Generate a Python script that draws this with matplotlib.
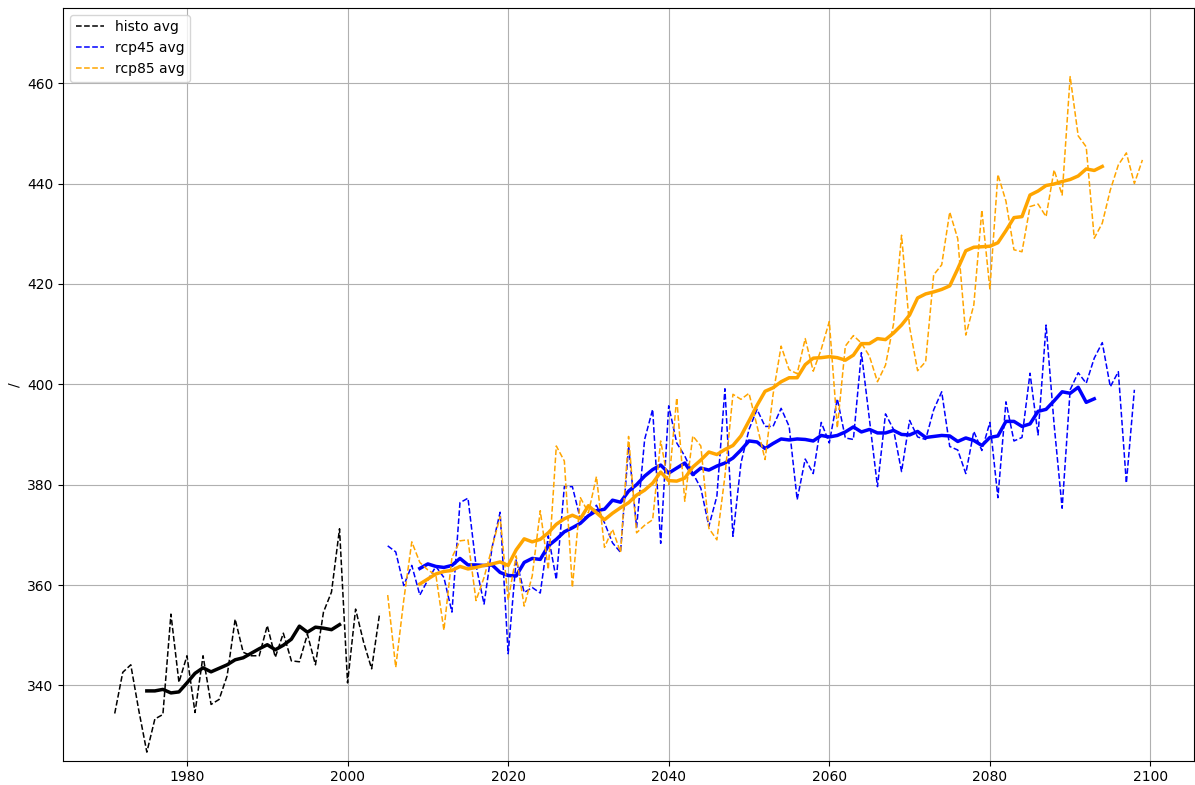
import numpy as np
import matplotlib
matplotlib.use('Agg')
import matplotlib.pyplot as plt

# yearly values
histo_start = 1971
histo = [334.4, 342.6, 344.1, 335.0, 326.7, 333.3, 334.2, 354.2, 340.6, 345.9,
         334.6, 345.9, 336.2, 337.2, 341.9, 353.2, 346.6, 345.9, 345.9, 351.9,
         345.6, 350.4, 344.9, 344.7, 350.2, 344.1, 354.6, 358.6, 371.2, 340.5,
         355.2, 348.6, 343.3, 354.4]

histo_avg_start = 1975
histo_avg = [338.9, 338.9, 339.2, 338.5, 338.7, 340.5, 342.4, 343.5, 342.7, 343.4,
             344.1, 345.1, 345.5, 346.4, 347.3, 348.1, 347.1, 348.0, 349.2, 351.8,
             350.6, 351.6, 351.4, 351.1, 352.1]

rcp45_start = 2005
rcp45 = [367.8, 366.6, 359.9, 363.9, 358.0, 361.0, 363.7, 361.5, 354.6, 376.4,
         377.3, 363.9, 356.2, 367.5, 374.5, 346.3, 365.0, 358.5, 359.5, 358.4,
         369.8, 361.1, 379.6, 379.6, 373.1, 373.8, 375.9, 372.4, 368.4, 366.5,
         387.7, 371.5, 389.0, 395.0, 368.3, 395.7, 388.3, 385.7, 382.3, 379.3,
         371.7, 377.7, 399.1, 369.7, 384.3, 391.0, 395.0, 391.6, 391.6, 395.2,
         391.6, 377.0, 385.1, 382.2, 392.4, 388.3, 397.1, 389.3, 389.0, 406.3,
         393.0, 379.6, 394.1, 391.0, 382.6, 392.8, 389.5, 389.0, 394.9, 398.5,
         387.6, 386.9, 382.2, 390.6, 386.8, 392.4, 377.4, 396.5, 388.7, 389.4,
         402.2, 389.9, 411.8, 392.0, 375.3, 398.9, 402.3, 400.2, 405.2, 408.3,
         399.5, 402.5, 380.3, 398.9]

rcp45_avg_start = 2009
rcp45_avg = [363.3, 364.2, 363.7, 363.5, 363.9, 365.3, 364.0, 364.0, 363.9, 364.0,
             362.5, 361.9, 361.8, 364.5, 365.3, 365.1, 367.8, 369.1, 370.6, 371.4,
             372.3, 373.8, 374.8, 375.1, 376.9, 376.5, 378.7, 380.0, 381.7, 383.0,
             383.9, 382.3, 383.3, 384.3, 382.0, 383.3, 382.9, 383.7, 384.3, 385.3,
             386.9, 388.7, 388.5, 387.2, 388.2, 389.1, 388.9, 389.1, 389.0, 388.7,
             389.8, 389.5, 389.8, 390.5, 391.5, 390.5, 391.0, 390.3, 390.3, 390.8,
             390.0, 389.9, 390.6, 389.4, 389.6, 389.8, 389.7, 388.6, 389.3, 388.8,
             387.8, 389.4, 389.7, 392.6, 392.6, 391.6, 392.1, 394.6, 395.0, 396.7,
             398.5, 398.2, 399.4, 396.4, 397.1]

rcp85_start = 2005
rcp85 = [358.0, 343.6, 357.0, 368.6, 364.5, 363.0, 362.0, 351.0, 365.5, 368.8,
         369.0, 356.9, 361.5, 367.5, 373.6, 357.0, 365.8, 355.8, 361.8, 374.8,
         363.1, 387.7, 384.7, 359.5, 377.4, 374.4, 381.6, 367.5, 371.1, 366.5,
         389.6, 370.4, 371.9, 373.0, 388.7, 380.0, 397.3, 376.7, 389.7, 387.7,
         371.3, 369.0, 381.7, 398.0, 397.0, 398.2, 391.7, 385.0, 398.0, 407.6,
         402.9, 402.1, 409.1, 402.6, 407.0, 412.5, 391.3, 407.6, 409.7, 408.2,
         405.6, 400.5, 403.8, 412.0, 429.7, 411.4, 402.7, 404.5, 421.8, 423.8,
         434.3, 429.0, 409.8, 415.8, 434.7, 419.0, 441.8, 436.5, 426.8, 426.4,
         435.4, 435.9, 433.4, 442.7, 437.7, 461.3, 449.5, 447.3, 429.1, 432.1,
         438.7, 443.7, 446.1, 440.0, 444.7]

rcp85_avg_start = 2009
rcp85_avg = [360.2, 361.2, 362.2, 362.7, 362.9, 363.7, 363.2, 363.5, 363.9, 364.2,
             364.6, 363.9, 367.0, 369.2, 368.6, 369.1, 370.4, 372.1, 373.2, 373.9,
             373.2, 375.8, 374.4, 373.0, 374.3, 375.4, 376.4, 377.9, 378.9, 380.3,
             382.5, 380.8, 380.7, 381.3, 383.5, 384.9, 386.5, 386.0, 387.0, 387.8,
             389.7, 392.7, 395.8, 398.6, 399.3, 400.5, 401.3, 401.3, 403.9, 405.2,
             405.3, 405.5, 405.3, 404.8, 405.8, 408.1, 408.1, 409.1, 408.9, 410.2,
             411.8, 413.8, 417.2, 418.0, 418.4, 418.9, 419.6, 423.0, 426.6, 427.3,
             427.4, 427.5, 428.2, 430.6, 433.2, 433.4, 437.7, 438.5, 439.6, 439.9,
             440.4, 440.8, 441.5, 442.9, 442.6, 443.4]


def years(start, values):
    return np.arange(start, start + len(values))


def main():
    fig = plt.figure(figsize=(11.95, 7.85), dpi=100)
    ax = fig.add_axes([0.053, 0.031, 0.946, 0.959])

    ax.plot(years(histo_start, histo), histo, '--', color='black', lw=1.1, label='histo avg')
    ax.plot(years(histo_avg_start, histo_avg), histo_avg, '-', color='black', lw=2.5)
    ax.plot(years(rcp45_start, rcp45), rcp45, '--', color='blue', lw=1.1, label='rcp45 avg')
    ax.plot(years(rcp45_avg_start, rcp45_avg), rcp45_avg, '-', color='blue', lw=2.5)
    ax.plot(years(rcp85_start, rcp85), rcp85, '--', color='orange', lw=1.1, label='rcp85 avg')
    ax.plot(years(rcp85_avg_start, rcp85_avg), rcp85_avg, '-', color='orange', lw=2.5)

    ax.set_ylim(325, 475)
    ax.set_xticks([1980, 2000, 2020, 2040, 2060, 2080, 2100])
    ax.set_yticks([340, 360, 380, 400, 420, 440, 460])
    ax.set_ylabel('/')
    ax.grid(True)
    ax.legend(loc='upper left')

    fig.savefig('out.png', dpi=100)


if __name__ == '__main__':
    main()
